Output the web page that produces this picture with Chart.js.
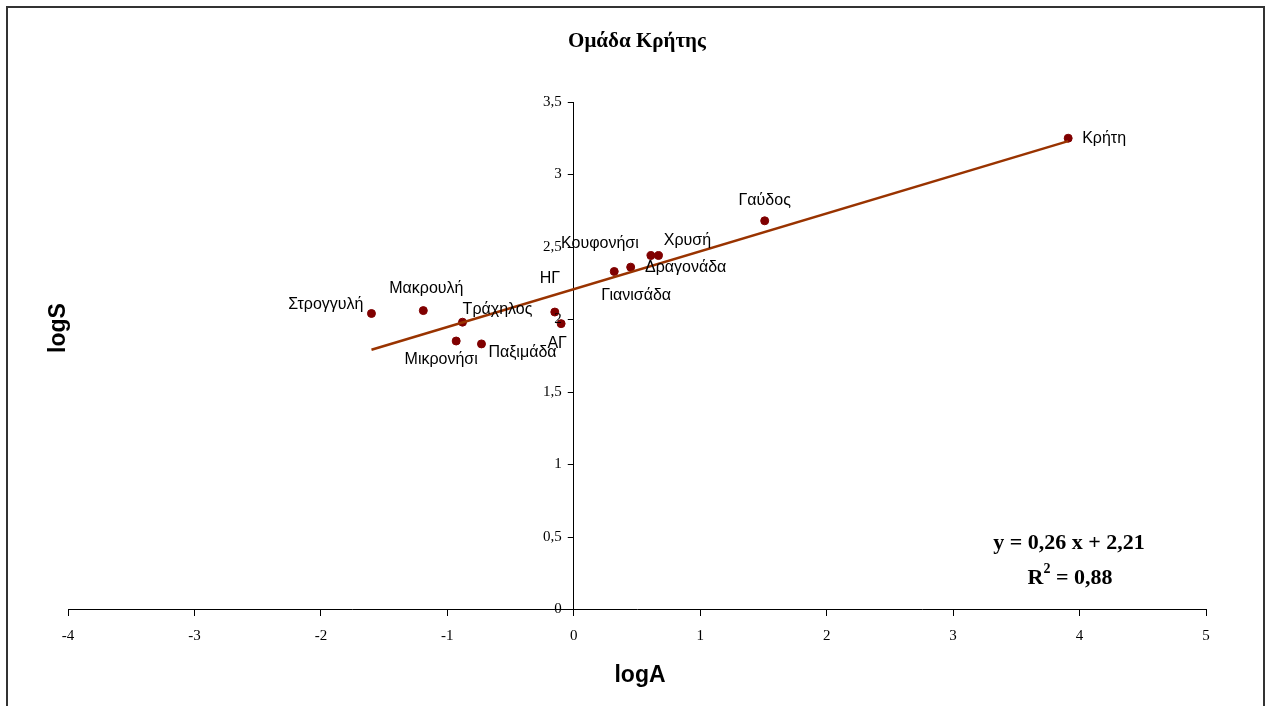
<!DOCTYPE html>
<html>
<head>
<meta charset="utf-8">
<script src="https://cdn.jsdelivr.net/npm/chart.js@4/dist/chart.umd.min.js"></script>
<style>
  html, body { margin: 0; padding: 0; background: #fff; }
  #wrap { width: 1266px; height: 706px; position: relative; }
</style>
</head>
<body>
<div id="wrap"><canvas id="chart" width="1266" height="706"></canvas></div>
<script>
// islands: logA / logS
const names = ['Κρήτη', 'Γαύδος', 'Χρυσή', 'Κουφονήσι', 'Δραγονάδα', 'Γιανισάδα', 'ΗΓ', 'ΑΓ',
               'Παξιμάδα', 'Τράχηλος', 'Μικρονήσι', 'Μακρουλή', 'Στρογγυλή'];
const logA = [3.91, 1.51, 0.67, 0.61, 0.45, 0.32, -0.15, -0.10, -0.73, -0.88, -0.93, -1.19, -1.60];
const logS = [3.25, 2.68, 2.44, 2.44, 2.36, 2.33, 2.05, 1.97, 1.83, 1.98, 1.85, 2.06, 2.04];

// trend line end points
const trendX = [-1.60, 3.91];
const trendY = [1.79, 3.23];

const xTicks = [-4, -3, -2, -1, 0, 1, 2, 3, 4, 5];
const yTicks = [0, 0.5, 1, 1.5, 2, 2.5, 3, 3.5];

const titleText = 'Ομάδα Κρήτης';
const equation = 'y = 0,26 x + 2,21';
const rSquared = '0,88';

// label placement relative to each point [dx, dy, align]
const labelPos = [
  [14, 0, 'left'], [0, -20, 'center'], [29, -15, 'center'], [-51, -12, 'center'],
  [55, 0, 'center'], [22, 24, 'center'], [-5, -33, 'center'], [-4, 20, 'center'],
  [41, 9, 'center'], [35, -13, 'center'], [-15, 19, 'center'], [3, -22, 'center'],
  [-8, -9, 'right']
];

const fmt = v => String(v).replace('.', ',');

const decor = {
  id: 'decor',
  afterDatasetsDraw(chart) {
    const c = chart.ctx;
    c.save();
    // frame
    c.strokeStyle = '#333';
    c.lineWidth = 2;
    c.beginPath();
    c.moveTo(7, 720); c.lineTo(7, 7); c.lineTo(1264, 7); c.lineTo(1264, 720);
    c.stroke();

    // y axis ticks + labels (left of the axis line)
    const ys = chart.scales.y;
    const ax = chart.scales.x.getPixelForValue(0);
    c.strokeStyle = '#000';
    c.lineWidth = 1;
    c.fillStyle = '#000';
    c.font = '15px "Liberation Serif"';
    c.textAlign = 'right';
    c.textBaseline = 'middle';
    yTicks.forEach(v => {
      const py = Math.round(ys.getPixelForValue(v)) + 0.5;
      c.beginPath();
      c.moveTo(ax - 6, py); c.lineTo(ax, py);
      c.stroke();
      c.fillText(fmt(v), ax - 12, py);
    });

    c.textAlign = 'center';
    c.font = 'bold 21px "Liberation Serif"';
    c.fillText(titleText, 637, 42);

    c.font = 'bold 23px "Liberation Sans"';
    c.fillText('logA', 640, 676);
    c.save();
    c.translate(59, 328);
    c.rotate(-Math.PI / 2);
    c.fillText('logS', 0, 0);
    c.restore();

    // equation
    c.font = 'bold 22px "Liberation Serif"';
    c.fillText(equation, 1069, 543);
    const r1 = 'R', r2 = ' = ' + rSquared;
    const w1 = c.measureText(r1).width;
    const w2 = c.measureText(r2).width;
    c.font = 'bold 14px "Liberation Serif"';
    const ws = c.measureText('2').width;
    const start = 1070 - (w1 + ws + w2) / 2;
    c.textAlign = 'left';
    c.font = 'bold 22px "Liberation Serif"';
    c.fillText(r1, start, 578);
    c.fillText(r2, start + w1 + ws, 578);
    c.font = 'bold 14px "Liberation Serif"';
    c.fillText('2', start + w1, 569);

    // point labels
    c.font = '16px "Liberation Sans"';
    const meta = chart.getDatasetMeta(1);
    meta.data.forEach((pt, i) => {
      const p = labelPos[i];
      c.textAlign = p[2];
      c.fillText(names[i], pt.x + p[0], pt.y + p[1]);
    });
    c.restore();
  }
};

new Chart(document.getElementById('chart'), {
  data: {
    datasets: [
      {
        type: 'line',
        data: trendX.map((x, i) => ({ x: x, y: trendY[i] })),
        borderColor: '#993300',
        borderWidth: 2.5,
        pointRadius: 0,
        fill: false
      },
      {
        type: 'scatter',
        data: logA.map((x, i) => ({ x: x, y: logS[i] })),
        backgroundColor: '#800000',
        borderColor: '#800000',
        pointRadius: 4,
        pointHoverRadius: 4
      }
    ]
  },
  options: {
    responsive: false,
    animation: false,
    layout: { padding: { left: 68, right: 60, top: 102, bottom: 97 } },
    plugins: { legend: { display: false }, tooltip: { enabled: false } },
    scales: {
      x: {
        type: 'linear',
        position: { y: 0 },
        min: -4, max: 5,
        afterBuildTicks: s => { s.ticks = xTicks.map(v => ({ value: v })); },
        grid: { drawOnChartArea: false, drawTicks: true, tickLength: 6, color: '#000' },
        border: { color: '#000', width: 1 },
        ticks: { color: '#000', font: { family: 'Liberation Serif', size: 15 }, padding: 12, callback: v => fmt(v) }
      },
      y: {
        type: 'linear',
        position: { x: 0 },
        min: 0, max: 3.5,
        afterBuildTicks: s => { s.ticks = yTicks.map(v => ({ value: v })); },
        grid: { drawOnChartArea: false, drawTicks: false },
        border: { color: '#000', width: 1 },
        ticks: { display: false }
      }
    }
  },
  plugins: [decor]
});
</script>
</body>
</html>
